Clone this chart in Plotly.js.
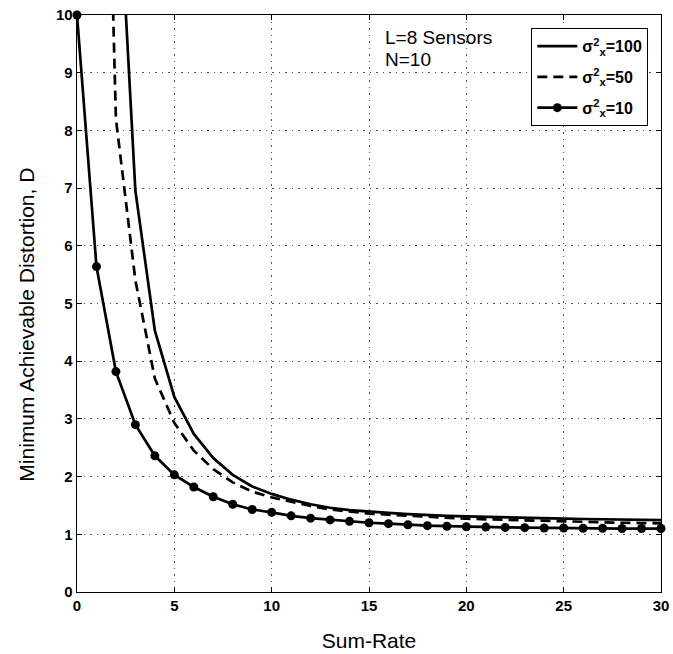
<!DOCTYPE html>
<html>
<head>
<meta charset="utf-8">
<script src="https://cdn.plot.ly/plotly-3.0.1.min.js"></script>
<style>html,body{margin:0;padding:0;background:#fff;}#chart{width:673px;height:654px;}</style>
</head>
<body>
<div id="chart"></div>
<script>
const sumRate = [0,1,2,3,4,5,6,7,8,9,10,11,12,13,14,15,16,17,18,19,20,21,22,23,24,25,26,27,28,29,30];
const distVar100 = [100,30,13.2,6.95,4.53,3.38,2.74,2.32,2.03,1.83,1.70,1.60,1.52,1.46,1.42,1.39,1.37,1.35,1.33,1.32,1.31,1.30,1.29,1.28,1.275,1.27,1.265,1.26,1.255,1.25,1.245];
const distVar50 = [50,21,8.2,5.4,3.7,2.93,2.45,2.13,1.90,1.74,1.64,1.56,1.49,1.43,1.39,1.36,1.34,1.32,1.30,1.285,1.27,1.26,1.25,1.24,1.23,1.22,1.215,1.21,1.20,1.195,1.19];
const distVar10 = [10,5.64,3.82,2.90,2.36,2.03,1.82,1.65,1.52,1.43,1.38,1.32,1.28,1.25,1.225,1.20,1.185,1.165,1.15,1.14,1.13,1.125,1.12,1.115,1.11,1.11,1.105,1.105,1.10,1.10,1.10];
const seriesNames = ["σ<sup>2</sup><sub>x</sub>=100","σ<sup>2</sup><sub>x</sub>=50","σ<sup>2</sup><sub>x</sub>=10"];
const xTicks = [0,5,10,15,20,25,30];
const yTicks = [0,1,2,3,4,5,6,7,8,9,10];
const xTitle = 'Sum-Rate';
const yTitle = 'Minimum Achievable Distortion, D';
const noteLines = ['L=8 Sensors', 'N=10'];

const traces = [
  {x: sumRate, y: distVar100, name: seriesNames[0], legendgroup: 'g1', mode: 'lines', line: {color: '#000', width: 2.7}},
  {x: sumRate, y: distVar50, name: seriesNames[1], legendgroup: 'g2', mode: 'lines', line: {color: '#000', width: 2.7, dash: '10px,6px'}},
  {x: sumRate, y: distVar10, name: seriesNames[2], legendgroup: 'g3', mode: 'lines+markers', cliponaxis: false,
   line: {color: '#000', width: 2.7}, marker: {color: '#000', size: 9, symbol: 'circle'}}
];

const axisCommon = {
  showline: true, linecolor: '#000', linewidth: 1.3, mirror: 'ticks',
  ticks: 'inside', ticklen: 5, tickcolor: '#000', tickwidth: 1,
  showgrid: true, gridcolor: '#555', gridwidth: 1, griddash: '1.5px,5px',
  zeroline: false,
  tickfont: {family: 'Liberation Sans, Arial, sans-serif', size: 15, color: '#000', weight: 'bold'}
};

const layout = {
  width: 673, height: 654,
  margin: {l: 77, r: 12, t: 15, b: 62},
  paper_bgcolor: '#fff', plot_bgcolor: '#fff',
  font: {family: 'Liberation Sans, Arial, sans-serif', color: '#000'},
  xaxis: Object.assign({}, axisCommon, {
    range: [0, 30], tickvals: xTicks, ticktext: xTicks.map(String),
    title: {text: xTitle, font: {size: 21, color: '#000'}, standoff: 20}
  }),
  yaxis: Object.assign({}, axisCommon, {
    range: [0, 10], tickvals: yTicks, ticktext: yTicks.map(String)
  }),
  showlegend: true,
  legend: {
    x: 0.978, y: 0.9775, xanchor: 'right', yanchor: 'top',
    bgcolor: '#fff', bordercolor: '#000', borderwidth: 1.2,
    font: {size: 16, color: '#000', weight: 'bold'},
    traceorder: 'grouped', tracegroupgap: 7, itemwidth: 40
  },
  annotations: [
    {xref: 'paper', yref: 'paper', x: -0.086, y: 0.463, xanchor: 'center', yanchor: 'middle',
     showarrow: false, textangle: -90, text: yTitle, font: {size: 21, color: '#000'}},
    {xref: 'x', yref: 'y', x: 15.7, y: 9.61, xanchor: 'left', yanchor: 'middle', showarrow: false,
     text: noteLines[0], font: {size: 19, color: '#000'}},
    {xref: 'x', yref: 'y', x: 15.7, y: 9.23, xanchor: 'left', yanchor: 'middle', showarrow: false,
     text: noteLines[1], font: {size: 19, color: '#000'}}
  ]
};

Plotly.newPlot('chart', traces, layout, {displayModeBar: false, staticPlot: true});
</script>
</body>
</html>
